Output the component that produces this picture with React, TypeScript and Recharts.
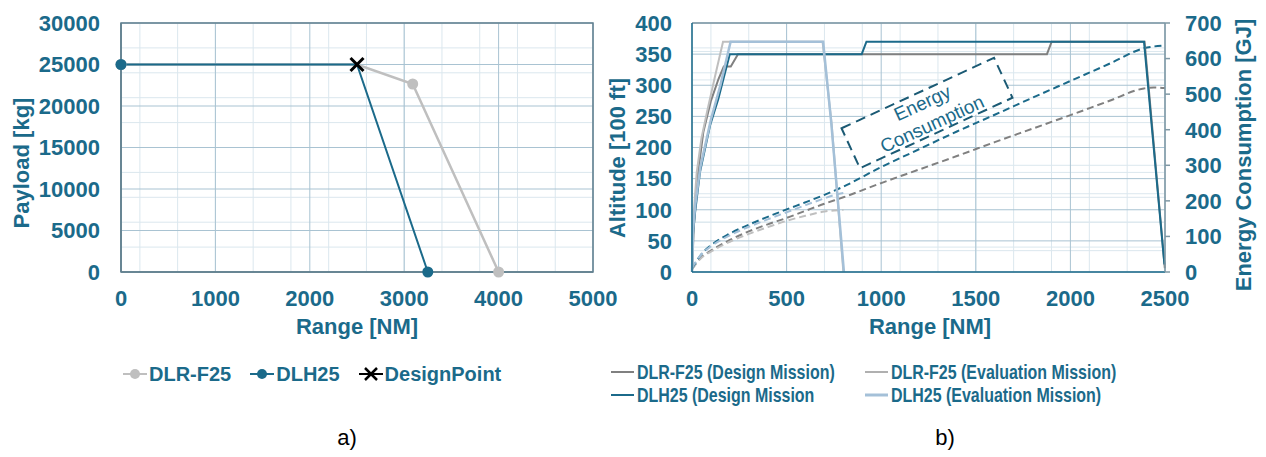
import React from "react";
import { ComposedChart, Line, XAxis, YAxis, CartesianGrid, ReferenceLine, ReferenceArea } from "recharts";

// ---- panel a) payload-range ----
const rangeTicksA = [0, 1000, 2000, 3000, 4000, 5000];
const payloadTicks = [0, 5000, 10000, 15000, 20000, 25000, 30000];

const dlrF25Payload = [
  { range: 0, payload: 25000 },
  { range: 2500, payload: 25000 },
  { range: 3090, payload: 22650 },
  { range: 4000, payload: 0 },
];
const dlh25Payload = [
  { range: 0, payload: 25000 },
  { range: 2500, payload: 25000 },
  { range: 3250, payload: 0 },
];
const designPoint = [{ range: 2500, payload: 25000 }];

// ---- panel b) mission profiles ----
const rangeTicksB = [0, 500, 1000, 1500, 2000, 2500];
const altitudeTicks = [0, 50, 100, 150, 200, 250, 300, 350, 400];
const energyTicks = [0, 100, 200, 300, 400, 500, 600, 700];

const altDlrDesign = [
  { range: 0, alt: 0 }, { range: 10, alt: 75 }, { range: 30, alt: 155 }, { range: 60, alt: 225 },
  { range: 100, alt: 275 }, { range: 140, alt: 310 }, { range: 168, alt: 330 }, { range: 205, alt: 330 },
  { range: 243, alt: 350 }, { range: 1876, alt: 350 }, { range: 1901, alt: 370 }, { range: 2392, alt: 370 },
  { range: 2499, alt: 6 },
];
const altDlrEval = [
  { range: 0, alt: 0 }, { range: 8, alt: 90 }, { range: 25, alt: 160 }, { range: 50, alt: 215 },
  { range: 80, alt: 258 }, { range: 120, alt: 312 }, { range: 164, alt: 370 }, { range: 690, alt: 370 },
  { range: 738, alt: 238 }, { range: 800, alt: 0 },
];
const altDlhDesign = [
  { range: 0, alt: 0 }, { range: 5, alt: 60 }, { range: 16, alt: 95 }, { range: 42, alt: 160 },
  { range: 95, alt: 235 }, { range: 139, alt: 278 }, { range: 200, alt: 350 }, { range: 897, alt: 350 },
  { range: 922, alt: 370 }, { range: 2389, alt: 370 }, { range: 2468, alt: 108 }, { range: 2497, alt: 12 },
];
const altDlhEval = [
  { range: 0, alt: 0 }, { range: 6, alt: 70 }, { range: 18, alt: 110 }, { range: 45, alt: 170 },
  { range: 100, alt: 245 }, { range: 150, alt: 300 }, { range: 204, alt: 370 }, { range: 693, alt: 370 },
  { range: 736, alt: 240 }, { range: 803, alt: 0 },
];

const energyDlrDesign = [
  { range: 0, energy: 8 }, { range: 50, energy: 42 }, { range: 100, energy: 60 }, { range: 200, energy: 90 },
  { range: 300, energy: 114 }, { range: 400, energy: 134 }, { range: 500, energy: 152 }, { range: 600, energy: 172 },
  { range: 700, energy: 192 }, { range: 800, energy: 210 }, { range: 1000, energy: 250 }, { range: 1200, energy: 288 },
  { range: 1400, energy: 326 }, { range: 1600, energy: 365 }, { range: 1800, energy: 403 }, { range: 2000, energy: 441 },
  { range: 2200, energy: 480 }, { range: 2389, energy: 516 }, { range: 2440, energy: 519 }, { range: 2500, energy: 517 },
];
const energyDlrEval = [
  { range: 0, energy: 8 }, { range: 50, energy: 40 }, { range: 100, energy: 57 }, { range: 200, energy: 85 },
  { range: 300, energy: 107 }, { range: 400, energy: 126 }, { range: 500, energy: 144 }, { range: 600, energy: 158 },
  { range: 700, energy: 170 }, { range: 750, energy: 173 }, { range: 800, energy: 174 },
];
const energyDlhDesign = [
  { range: 0, energy: 10 }, { range: 50, energy: 50 }, { range: 100, energy: 75 }, { range: 200, energy: 108 },
  { range: 300, energy: 133 }, { range: 400, energy: 155 }, { range: 500, energy: 176 }, { range: 600, energy: 196 },
  { range: 700, energy: 217 }, { range: 800, energy: 240 }, { range: 1000, energy: 295 }, { range: 1200, energy: 345 },
  { range: 1400, energy: 395 }, { range: 1600, energy: 442 }, { range: 1800, energy: 490 }, { range: 2000, energy: 537 },
  { range: 2200, energy: 584 }, { range: 2389, energy: 629 }, { range: 2500, energy: 637 },
];
const energyDlhEval = [
  { range: 0, energy: 12 }, { range: 50, energy: 50 }, { range: 100, energy: 72 }, { range: 200, energy: 103 },
  { range: 300, energy: 127 }, { range: 400, energy: 148 }, { range: 500, energy: 168 }, { range: 600, energy: 188 },
  { range: 700, energy: 207 }, { range: 750, energy: 216 }, { range: 800, energy: 222 },
];

const TEAL = "#1b6a8a";
const GRAY_DARK = "#808080";
const GRAY_LIGHT = "#bfbfbf";
const BLUE_LIGHT = "#a4c0d8";
const BORDER = "#62808f";
const GRID_MAJOR = "#a9c3d2";
const GRID_MINOR = "#dbe7ee";
const FONT = "'Liberation Sans', Arial, sans-serif";

const tickStyle = { fill: TEAL, fontSize: 22, fontWeight: 700, fontFamily: FONT };

const steps = (from: number, to: number, step: number) => {
  const out: number[] = [];
  for (let v = from; v <= to + 1e-9; v += step) out.push(v);
  return out;
};

const dotFor = (color: string) => (props: any) => {
  const { cx, cy, payload, index } = props;
  if (payload.range === 2500) return <g key={`d-${color}-${index}`} />;
  return <circle key={`d-${color}-${index}`} cx={cx} cy={cy} r={5.5} fill={color} stroke="none" />;
};

const crossDot = (props: any) => {
  const { cx, cy, index } = props;
  const s = 6.5;
  return (
    <g key={`x-${index}`} stroke="#000" strokeWidth={3}>
      <line x1={cx - s} y1={cy - s} x2={cx + s} y2={cy + s} />
      <line x1={cx - s} y1={cy + s} x2={cx + s} y2={cy - s} />
    </g>
  );
};

function PayloadRange() {
  return (
    <ComposedChart width={620} height={320} margin={{ top: 23, right: 27, left: 0, bottom: 0 }}>
      <CartesianGrid verticalValues={steps(0, 5000, 200)} horizontalValues={steps(0, 30000, 1000)} stroke={GRID_MINOR} />
      <CartesianGrid verticalValues={rangeTicksA} horizontalValues={payloadTicks} stroke={GRID_MAJOR} />
      <XAxis
        type="number"
        dataKey="range"
        domain={[0, 5000]}
        ticks={rangeTicksA}
        height={48}
        tickLine={false}
        tickSize={0}
        tickMargin={18}
        axisLine={{ stroke: BORDER, strokeWidth: 1.5 }}
        tick={tickStyle}
      />
      <YAxis
        type="number"
        domain={[0, 30000]}
        ticks={payloadTicks}
        width={121}
        tickLine={false}
        tickSize={0}
        tickMargin={21}
        axisLine={{ stroke: BORDER, strokeWidth: 1.5 }}
        tick={tickStyle}
      />
      <ReferenceArea x1={0} x2={5000} y1={0} y2={30000} fill="none" stroke={BORDER} strokeWidth={1.5} />
      <Line data={dlrF25Payload} dataKey="payload" stroke={GRAY_LIGHT} strokeWidth={2.5} dot={dotFor(GRAY_LIGHT)} isAnimationActive={false} />
      <Line data={dlh25Payload} dataKey="payload" stroke={TEAL} strokeWidth={2} dot={dotFor(TEAL)} isAnimationActive={false} />
      <Line data={designPoint} dataKey="payload" stroke="none" dot={crossDot} isAnimationActive={false} />
    </ComposedChart>
  );
}

function MissionProfiles() {
  const energyLine = (data: any[], color: string) => (
    <Line
      yAxisId="en"
      data={data}
      dataKey="energy"
      type="monotone"
      stroke={color}
      strokeWidth={2}
      strokeDasharray="7 4"
      dot={false}
      isAnimationActive={false}
    />
  );
  const altLine = (data: any[], color: string, w = 2) => (
    <Line yAxisId="alt" data={data} dataKey="alt" stroke={color} strokeWidth={w} dot={false} isAnimationActive={false} />
  );
  return (
    <ComposedChart width={666} height={320} margin={{ top: 23, right: 0, left: 0, bottom: 0 }}>
      <CartesianGrid yAxisId="en" verticalValues={steps(0, 2500, 100)} horizontalValues={steps(0, 700, 20)} stroke={GRID_MINOR} />
      <CartesianGrid yAxisId="alt" vertical={false} horizontalValues={steps(0, 400, 10)} stroke={GRID_MINOR} />
      <CartesianGrid yAxisId="alt" verticalValues={rangeTicksB} horizontalValues={altitudeTicks} stroke={GRID_MAJOR} />
      <XAxis
        type="number"
        dataKey="range"
        domain={[0, 2500]}
        ticks={rangeTicksB}
        height={48}
        tickLine={false}
        tickSize={0}
        tickMargin={18}
        axisLine={{ stroke: TEAL, strokeWidth: 1.5 }}
        tick={tickStyle}
      />
      <YAxis
        yAxisId="alt"
        type="number"
        domain={[0, 400]}
        ticks={altitudeTicks}
        width={92}
        tickLine={false}
        tickSize={0}
        tickMargin={20}
        axisLine={{ stroke: TEAL, strokeWidth: 1.5 }}
        tick={tickStyle}
      />
      <YAxis
        yAxisId="en"
        orientation="right"
        type="number"
        domain={[0, 700]}
        ticks={energyTicks}
        width={101}
        tickLine={{ stroke: "#7f98a5", strokeWidth: 1.5 }}
        tickSize={5}
        tickMargin={15}
        axisLine={{ stroke: "#7f98a5", strokeWidth: 1.5 }}
        tick={tickStyle}
      />
      <ReferenceLine yAxisId="alt" y={400} stroke="#7f98a5" strokeWidth={1.5} />
      {energyLine(energyDlrDesign, GRAY_DARK)}
      {energyLine(energyDlrEval, GRAY_LIGHT)}
      {energyLine(energyDlhDesign, TEAL)}
      {energyLine(energyDlhEval, BLUE_LIGHT)}
      {altLine(altDlrDesign, GRAY_DARK)}
      {altLine(altDlhDesign, TEAL)}
      {altLine(altDlrEval, GRAY_LIGHT)}
      {altLine(altDlhEval, BLUE_LIGHT, 2.5)}
    </ComposedChart>
  );
}

const legendA = [
  { name: "DLR-F25", color: GRAY_LIGHT, marker: "dot" },
  { name: "DLH25", color: TEAL, marker: "dot" },
  { name: "DesignPoint", color: "#000", marker: "cross" },
];

const legendB = [
  { name: "DLR-F25 (Design Mission)", color: GRAY_DARK, w: 2 },
  { name: "DLR-F25 (Evaluation Mission)", color: "#b0b0b0", w: 2 },
  { name: "DLH25 (Design Mission", color: TEAL, w: 2 },
  { name: "DLH25 (Evaluation Mission)", color: BLUE_LIGHT, w: 3 },
];

function LegendA() {
  return (
    <div style={{ position: "absolute", left: 123, top: 362, display: "flex", gap: 19, alignItems: "center" }}>
      {legendA.map((it) => (
        <div key={it.name} style={{ display: "flex", alignItems: "center" }}>
          <svg width={24} height={20} style={{ flexShrink: 0 }}>
            <line x1={0} y1={10} x2={24} y2={10} stroke={it.color} strokeWidth={2} />
            {it.marker === "dot" ? (
              <circle cx={12} cy={10} r={5} fill={it.color} />
            ) : (
              <g stroke={it.color} strokeWidth={2.5}>
                <line x1={6} y1={4} x2={18} y2={16} />
                <line x1={6} y1={16} x2={18} y2={4} />
              </g>
            )}
          </svg>
          <span style={{ marginLeft: 2, color: TEAL, fontFamily: FONT, fontWeight: 700, fontSize: 20, lineHeight: "24px" }}>
            {it.name}
          </span>
        </div>
      ))}
    </div>
  );
}

function LegendB() {
  return (
    <div
      style={{
        position: "absolute",
        left: 611,
        top: 360,
        display: "grid",
        gridTemplateColumns: "254px 260px",
      }}
    >
      {legendB.map((it) => (
        <div key={it.name} style={{ display: "flex", alignItems: "center", height: 23, width: 254 }}>
          <svg width={23} height={10} style={{ flexShrink: 0 }}>
            <line x1={0} y1={5} x2={23} y2={5} stroke={it.color} strokeWidth={it.w} />
          </svg>
          <span
            style={{
              display: "inline-block",
              marginLeft: 3,
              color: TEAL,
              fontFamily: FONT,
              fontWeight: 700,
              fontSize: 21,
              whiteSpace: "nowrap",
              transform: "scaleX(0.76)",
              transformOrigin: "left center",
              flexShrink: 0,
            }}
          >
            {it.name}
          </span>
        </div>
      ))}
    </div>
  );
}

function Overlay() {
  const title = { fill: TEAL, fontFamily: FONT, fontWeight: 700, fontSize: 22 } as const;
  return (
    <svg width={1266} height={457} style={{ position: "absolute", left: 0, top: 0, pointerEvents: "none" }}>
      <text x={21} y={163} transform="rotate(-90 21 163)" textAnchor="middle" dominantBaseline="central" {...title}>
        Payload [kg]
      </text>
      <text x={357} y={326} textAnchor="middle" dominantBaseline="central" {...title}>
        Range [NM]
      </text>
      <text x={617} y={158} transform="rotate(-90 617 158)" textAnchor="middle" dominantBaseline="central" {...title}>
        Altitude [100 ft]
      </text>
      <text x={930} y={326} textAnchor="middle" dominantBaseline="central" {...title}>
        Range [NM]
      </text>
      <text x={1243} y={155} transform="rotate(-90 1243 155)" textAnchor="middle" dominantBaseline="central" {...title}>
        Energy Consumption [GJ]
      </text>
      <g transform="translate(927 113) rotate(-24.8)">
        <rect x={-84} y={-22} width={168} height={44} fill="#fff" stroke="#1b5a74" strokeWidth={2} strokeDasharray="10 6" />
        <text x={0} y={-11} textAnchor="middle" dominantBaseline="central" fill={TEAL} fontFamily={FONT} fontSize={19}>
          Energy
        </text>
        <text x={0} y={12} textAnchor="middle" dominantBaseline="central" fill={TEAL} fontFamily={FONT} fontSize={19}>
          Consumption
        </text>
      </g>
      <text x={347} y={437} textAnchor="middle" dominantBaseline="central" fill="#000" fontFamily={FONT} fontSize={22}>
        a)
      </text>
      <text x={945} y={437} textAnchor="middle" dominantBaseline="central" fill="#000" fontFamily={FONT} fontSize={22}>
        b)
      </text>
    </svg>
  );
}

export default function App() {
  return (
    <div style={{ position: "absolute", left: 0, top: 0, width: 1266, height: 457, background: "#fff", overflow: "hidden" }}>
      <div style={{ position: "absolute", left: 0, top: 0 }}>
        <PayloadRange />
      </div>
      <div style={{ position: "absolute", left: 600, top: 0 }}>
        <MissionProfiles />
      </div>
      <LegendA />
      <LegendB />
      <Overlay />
    </div>
  );
}
